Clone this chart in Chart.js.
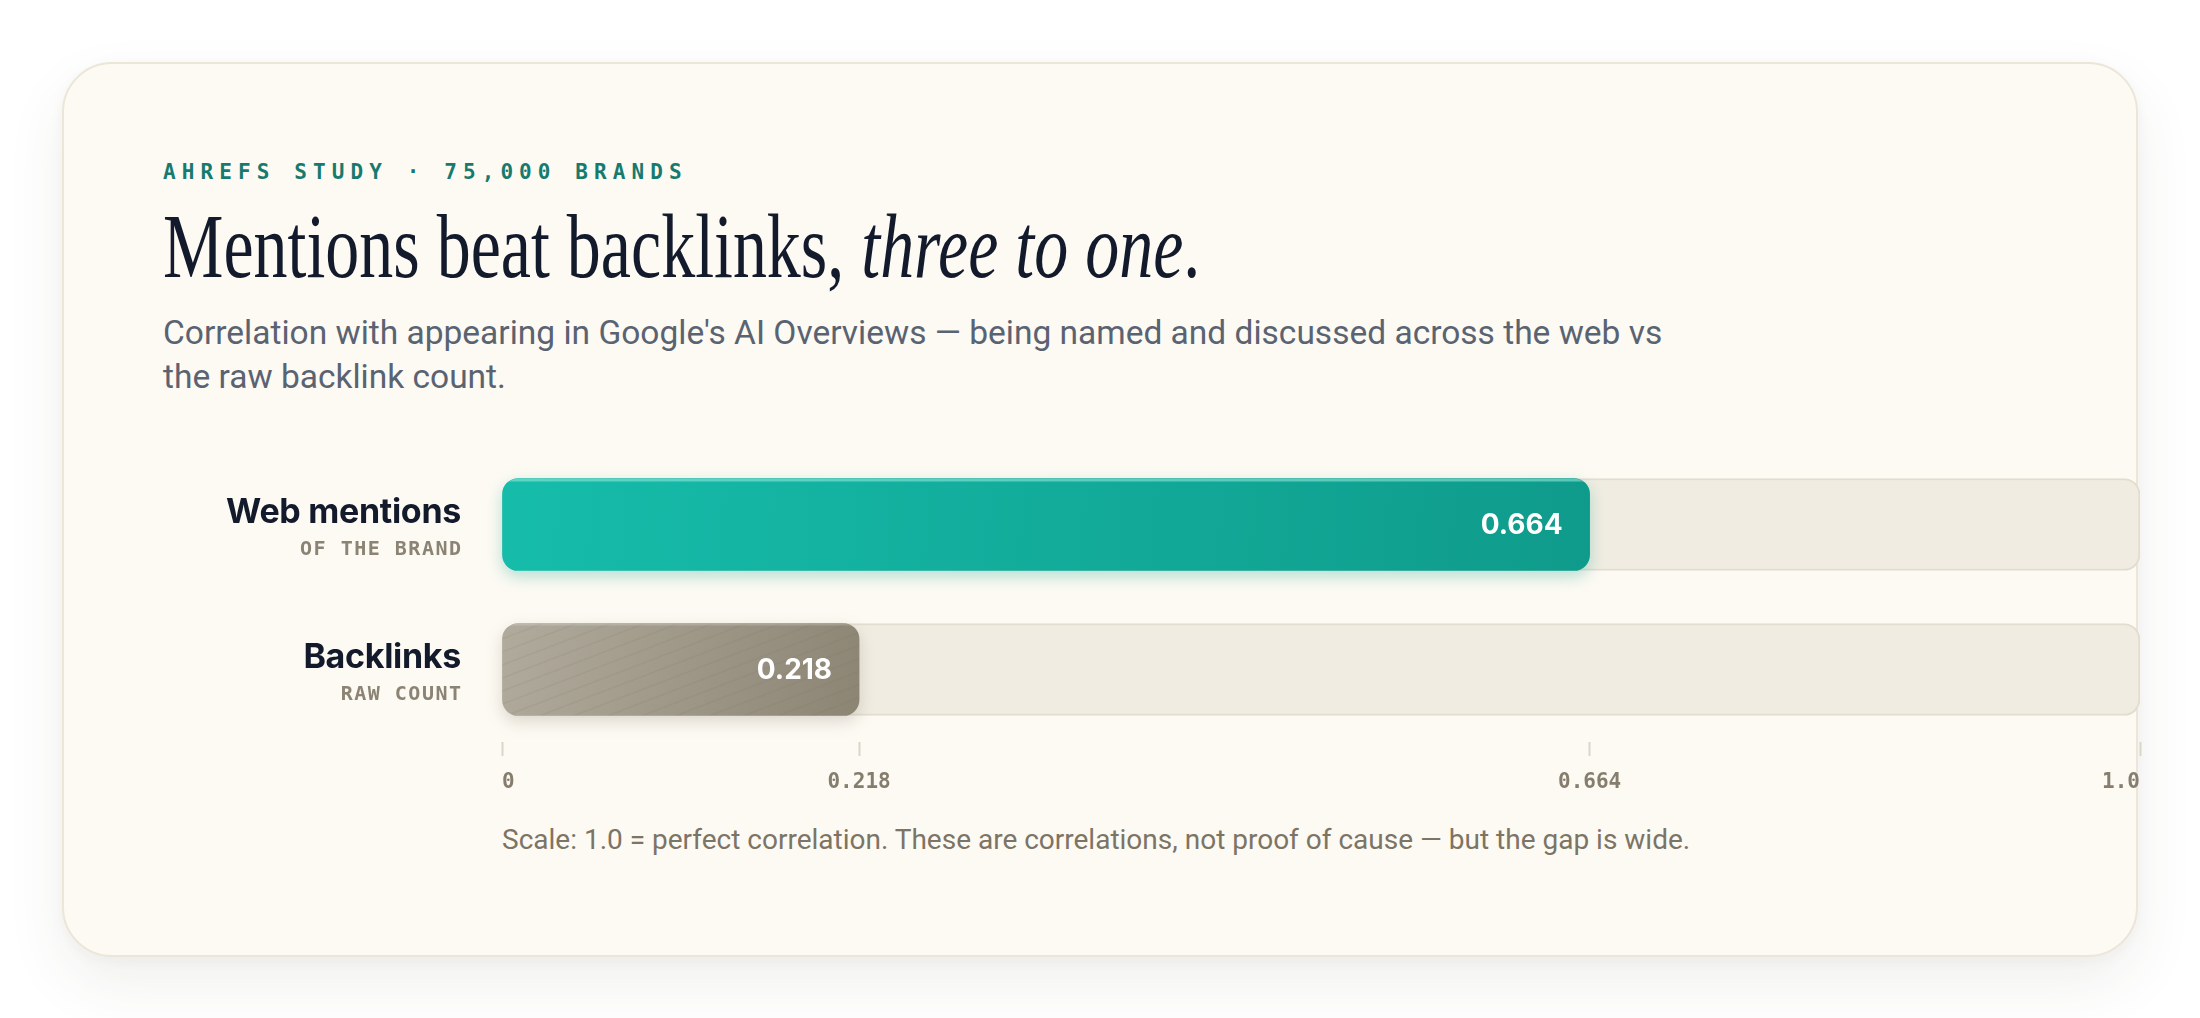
<!DOCTYPE html>
<html>
<head>
<meta charset="utf-8">
<script src="https://cdn.jsdelivr.net/npm/chart.js@4.4.1/dist/chart.umd.min.js"></script>
<style>
  html, body { margin: 0; padding: 0; }
  body { width: 2200px; height: 1018px; background: #ffffff; position: relative; overflow: hidden; }
  .card {
    position: absolute; left: 62px; top: 62px; width: 2076px; height: 895px;
    box-sizing: border-box; border: 2px solid #ebe6d8; border-radius: 50px;
    background: #fdfaf3;
    box-shadow: 0 26px 60px rgba(70, 60, 40, 0.08), 0 4px 14px rgba(70, 60, 40, 0.04);
  }
  .eyebrow {
    position: absolute; left: 163px; top: 162px;
    font: bold 21px "DejaVu Sans Mono", monospace; line-height: 21px;
    letter-spacing: 6.1px; color: #177a6e; white-space: nowrap;
  }
  .title {
    position: absolute; left: 163px; top: 200px;
    font: 92px "Liberation Serif", serif; line-height: 1;
    color: #121a2b; white-space: nowrap; transform-origin: 0 0;
  }
  .sub {
    position: absolute; left: 163px; top: 311px;
    font: 33.5px Roboto, sans-serif; line-height: 43.5px;
    color: #5a6372; white-space: nowrap;
  }
  .note {
    position: absolute; left: 502px; top: 820px;
    font: 28px Roboto, sans-serif; line-height: 40px;
    color: #7c7465; white-space: nowrap;
  }
  #wrap { position: absolute; left: 0; top: 440px; width: 2200px; height: 380px; }
</style>
</head>
<body>
<div class="card"></div>
<div class="eyebrow">AHREFS STUDY · 75,000 BRANDS</div>
<div class="title" id="title">Mentions beat backlinks, <i>three to one</i>.</div>
<div class="sub">Correlation with appearing in Google's AI Overviews — being named and discussed across the web vs<br>the raw backlink count.</div>
<div class="note">Scale: 1.0 = perfect correlation. These are correlations, not proof of cause — but the gap is wide.</div>
<div id="wrap"><canvas id="chart"></canvas></div>

<script>
const categories = ["Web mentions", "Backlinks"];
const subLabels = ["OF THE BRAND", "RAW COUNT"];
const values = [0.664, 0.218];
const trackMax = [1.0, 1.0];
const tickValues = [0, 0.218, 0.664, 1.0];
const tickLabels = ["0", "0.218", "0.664", "1.0"];

const fillStops = [["#16bcaa", "#0f9b8b"], ["#b1ab9d", "#8c8574"]];
const glow = ["rgba(18, 160, 140, 0.30)", "rgba(90, 80, 60, 0.20)"];

function barFill(c) {
  const chart = c.chart;
  if (!chart.chartArea) return fillStops[c.dataIndex][1];
  const xs = chart.scales.x, ys = chart.scales.y;
  const x0 = xs.getPixelForValue(0);
  const x1 = xs.getPixelForValue(c.raw);
  const yc = ys.getPixelForValue(c.dataIndex);
  const g = chart.ctx.createLinearGradient(x0, yc - 46, x1, yc + 46);
  g.addColorStop(0, fillStops[c.dataIndex][0]);
  g.addColorStop(1, fillStops[c.dataIndex][1]);
  return g;
}

function roundRect(ctx, x, y, w, h, r) {
  ctx.beginPath();
  ctx.moveTo(x + r, y);
  ctx.arcTo(x + w, y, x + w, y + h, r);
  ctx.arcTo(x + w, y + h, x, y + h, r);
  ctx.arcTo(x, y + h, x, y, r);
  ctx.arcTo(x, y, x + w, y, r);
  ctx.closePath();
}

// draw value bars by hand so each gets its own shadow, sheen and texture
const barPainter = {
  id: "barPainter",
  beforeDatasetDraw(chart, args) {
    if (args.index !== 0) return;
    const ctx = chart.ctx;
    args.meta.data.forEach((el, i) => {
      const left = el.base, right = el.x, top = el.y - el.height / 2, h = el.height;
      ctx.save();
      ctx.shadowColor = glow[i];
      ctx.shadowBlur = 16;
      ctx.shadowOffsetY = 6;
      el.draw(ctx, chart.chartArea);
      ctx.restore();

      ctx.save();
      roundRect(ctx, left, top, right - left, h, 16);
      ctx.clip();
      if (i === 0) {
        ctx.fillStyle = "rgba(140, 230, 215, 0.6)";
        ctx.fillRect(left, top, right - left, 3);
      } else {
        ctx.strokeStyle = "rgba(120, 110, 90, 0.10)";
        ctx.lineWidth = 1.5;
        for (let sx = left - 200; sx < right + 40; sx += 34) {
          ctx.beginPath();
          ctx.moveTo(sx, top + h);
          ctx.lineTo(sx + 240, top);
          ctx.stroke();
        }
        ctx.fillStyle = "rgba(255, 255, 255, 0.18)";
        ctx.fillRect(left, top, right - left, 2);
      }
      ctx.restore();
    });
    return false;
  },
  afterDatasetsDraw(chart) {
    const ctx = chart.ctx;
    const meta = chart.getDatasetMeta(0);
    ctx.save();
    ctx.fillStyle = "#ffffff";
    ctx.font = "700 28px Inter, sans-serif";
    ctx.textAlign = "right";
    ctx.textBaseline = "middle";
    meta.data.forEach((el, i) => {
      ctx.fillText(values[i].toFixed(3), el.x - 27, el.y + 1);
    });

    // category labels on the left
    const ys = chart.scales.y;
    const lx = chart.chartArea.left - 41;
    categories.forEach((name, i) => {
      const yc = ys.getPixelForValue(i);
      ctx.textBaseline = "alphabetic";
      ctx.fillStyle = "#121a2b";
      ctx.font = "700 34px Inter, sans-serif";
      ctx.letterSpacing = "-0.3px";
      ctx.fillText(name, lx, yc - 2);
      ctx.fillStyle = "#8b8373";
      ctx.font = "bold 20px 'DejaVu Sans Mono', monospace";
      ctx.letterSpacing = "1.5px";
      ctx.fillText(subLabels[i], lx + 1.5, yc + 30);
      ctx.letterSpacing = "0px";
    });
    ctx.restore();
  }
};

function build() {
  const t = document.getElementById("title");
  t.style.transform = "scaleX(" + (1037 / t.offsetWidth) + ")";

  new Chart(document.getElementById("chart"), {
    type: "bar",
    data: {
      labels: categories,
      datasets: [
        {
          data: values,
          backgroundColor: barFill,
          borderRadius: 16,
          borderSkipped: false,
          borderWidth: 0,
          barThickness: 92,
          grouped: false
        },
        {
          data: trackMax,
          backgroundColor: "#f0ece1",
          borderColor: "#e3ddcf",
          borderWidth: 2,
          borderRadius: 16,
          borderSkipped: false,
          barThickness: 92,
          grouped: false
        }
      ]
    },
    options: {
      indexAxis: "y",
      responsive: true,
      maintainAspectRatio: false,
      animation: false,
      layout: { padding: { left: 502, right: 60, top: 12, bottom: 0 } },
      plugins: { legend: { display: false }, tooltip: { enabled: false } },
      scales: {
        y: { display: false },
        x: {
          min: 0,
          max: 1,
          afterBuildTicks: (axis) => { axis.ticks = tickValues.map(v => ({ value: v })); },
          afterFit: (axis) => { axis.height = 78; },
          border: { display: false },
          grid: { drawOnChartArea: false, drawTicks: true, tickLength: 14, tickColor: "#dcd6c8", tickWidth: 2 },
          ticks: {
            align: "inner",
            autoSkip: false,
            maxRotation: 0,
            padding: 14,
            color: "#857d6d",
            font: { family: "'DejaVu Sans Mono', monospace", size: 21, weight: "bold" },
            callback: (v, i) => tickLabels[i]
          }
        }
      }
    },
    plugins: [barPainter]
  });
}

document.fonts.ready.then(build);
</script>
</body>
</html>
